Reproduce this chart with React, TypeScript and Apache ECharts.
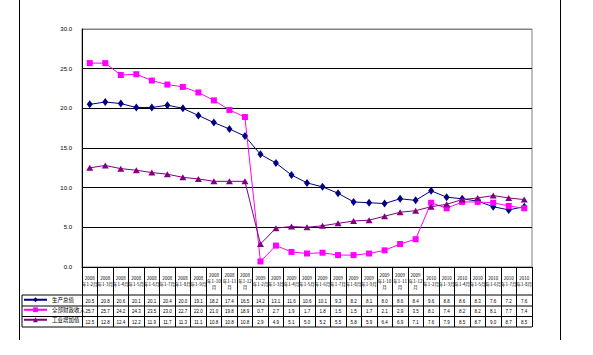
import React, { useEffect, useRef } from "react";
import * as echarts from "echarts";

const years = ["2008", "2009", "2010"];
const periods = [
  "2008年1-2月", "2008年1-3月", "2008年1-4月", "2008年1-5月", "2008年1-6月", "2008年1-7月",
  "2008年1-8月", "2008年1-9月", "2008年1-10月", "2008年1-11月", "2008年1-12月",
  "2009年1-2月", "2009年1-3月", "2009年1-4月", "2009年1-5月", "2009年1-6月", "2009年1-7月",
  "2009年1-8月", "2009年1-9月", "2009年1-10月", "2009年1-11月", "2009年1-12月",
  "2010年1-2月", "2010年1-3月", "2010年1-4月", "2010年1-5月", "2010年1-6月", "2010年1-7月",
  "2010年1-8月",
];

const seriesNames = ["生产总值", "全部财政收入", "工业增加值"];

const gdp = [
  20.5, 20.8, 20.6, 20.1, 20.1, 20.4, 20.0, 19.1, 18.2, 17.4, 16.5,
  14.2, 13.1, 11.6, 10.6, 10.1, 9.3, 8.2, 8.1, 8.0, 8.6, 8.4,
  9.6, 8.8, 8.6, 8.3, 7.6, 7.2, 7.6,
];
const revenue = [
  25.7, 25.7, 24.2, 24.3, 23.5, 23.0, 22.7, 22.0, 21.0, 19.8, 18.9,
  0.7, 2.7, 1.9, 1.7, 1.8, 1.5, 1.5, 1.7, 2.1, 2.9, 3.5,
  8.1, 7.4, 8.2, 8.2, 8.1, 7.7, 7.4,
];
const industry = [
  12.5, 12.8, 12.4, 12.2, 11.9, 11.7, 11.3, 11.1, 10.8, 10.8, 10.8,
  2.9, 4.9, 5.1, 5.0, 5.2, 5.5, 5.8, 5.9, 6.4, 6.9, 7.1,
  7.6, 7.9, 8.5, 8.7, 9.0, 8.7, 8.5,
];
const yTicks = [0, 5, 10, 15, 20, 25, 30];

const colors = ["#000080", "#FF00FF", "#800080"];
const symbols = ["diamond", "rect", "triangle"];
const symbolSizes: any[] = [[6, 8], 6, [7, 6]];
const rowData = [gdp, revenue, industry];

function headerLabel(p: string) {
  const year = years.find((y) => p.startsWith(y)) || "";
  const rest = p.slice(year.length); // 年1-2月
  const mid = rest.slice(0, rest.length - 1);
  if (mid.length > 4) return `${year}\n${mid}\n月`;
  return `${year}\n${rest}`;
}

export default function App() {
  const ref = useRef<HTMLDivElement>(null);
  useEffect(() => {
    if (!ref.current) return;
    const chart = echarts.init(ref.current, undefined, { renderer: "svg" });
    const gridLeft = 82;
    const gridRight = 532;
    const axisY = 267;
    const rowLines = [295, 306, 316.5, 327];
    const valueAxes = rowData.map((arr, i) => ({
      type: "category",
      gridIndex: 0,
      position: "bottom",
      data: periods,
      offset: 34 + i * 10.5,
      axisLine: { show: false },
      axisTick: { show: false },
      axisLabel: {
        interval: 0,
        margin: 0,
        fontSize: 4.5,
        color: "#000",
        verticalAlign: "middle",
        fontFamily: "Liberation Sans",
        formatter: (_v: string, idx: number) => arr[idx].toFixed(1),
      },
    }));
    const option: any = {
      animation: false,
      backgroundColor: "#fff",
      grid: {
        left: gridLeft,
        right: 593 - gridRight,
        top: 29,
        bottom: 355 - axisY,
        show: true,
        borderColor: "#808080",
        borderWidth: 1,
      },
      legend: {
        orient: "vertical",
        left: 23,
        top: 297,
        itemWidth: 23,
        itemHeight: 6,
        itemGap: 4.5,
        padding: 0,
        textStyle: { fontSize: 5.5, color: "#000", fontFamily: "Noto Sans CJK SC" },
        data: seriesNames,
      },
      xAxis: [
        {
          type: "category",
          data: periods,
          boundaryGap: true,
          axisLine: { lineStyle: { color: "#000", width: 1 } },
          axisTick: { show: true, length: 60, lineStyle: { color: "#000", width: 1 } },
          axisLabel: {
            interval: 0,
            margin: 14,
            fontSize: 4.5,
            lineHeight: 6,
            verticalAlign: "middle",
            color: "#000",
            fontFamily: "Noto Sans CJK SC",
            formatter: (v: string) => headerLabel(v),
          },
        },
        ...valueAxes,
      ],
      yAxis: {
        type: "value",
        min: 0,
        max: 30,
        interval: 5,
        axisLine: { show: true, lineStyle: { color: "#000", width: 1 } },
        axisTick: { show: false },
        axisLabel: {
          fontSize: 6,
          color: "#000",
          margin: 10,
          fontFamily: "Liberation Sans",
          formatter: (v: number) => (yTicks.includes(v) ? v.toFixed(1) : ""),
        },
        splitLine: {
          show: true,
          lineStyle: { color: ["#000", "#000", "#000", "#000", "#000", "#000", "#808080"], width: 1 },
        },
      },
      series: rowData.map((arr, i) => ({
        name: seriesNames[i],
        type: "line",
        data: arr,
        xAxisIndex: 0,
        symbol: symbols[i],
        symbolSize: symbolSizes[i],
        showAllSymbol: true,
        itemStyle: { color: colors[i] },
        lineStyle: { color: colors[i], width: 1 },
      })),
      graphic: [
        ...rowLines.map((y) => ({
          type: "line",
          shape: { x1: 22, y1: y, x2: gridRight, y2: y },
          style: { stroke: "#000", lineWidth: 1 },
        })),
        {
          type: "line",
          shape: { x1: 22, y1: rowLines[0], x2: 22, y2: rowLines[3] },
          style: { stroke: "#000", lineWidth: 1 },
        },
        {
          type: "line",
          shape: { x1: 19.5, y1: 0, x2: 19.5, y2: 340 },
          style: { stroke: "#000", lineWidth: 1 },
        },
        {
          type: "line",
          shape: { x1: 560.5, y1: 0, x2: 560.5, y2: 340 },
          style: { stroke: "#000", lineWidth: 1 },
        },
      ],
    };
    chart.setOption(option);
    return () => chart.dispose();
  }, []);
  return (
    <div
      ref={ref}
      style={{ position: "fixed", left: 0, top: 0, width: 593, height: 355, background: "#fff" }}
    />
  );
}
